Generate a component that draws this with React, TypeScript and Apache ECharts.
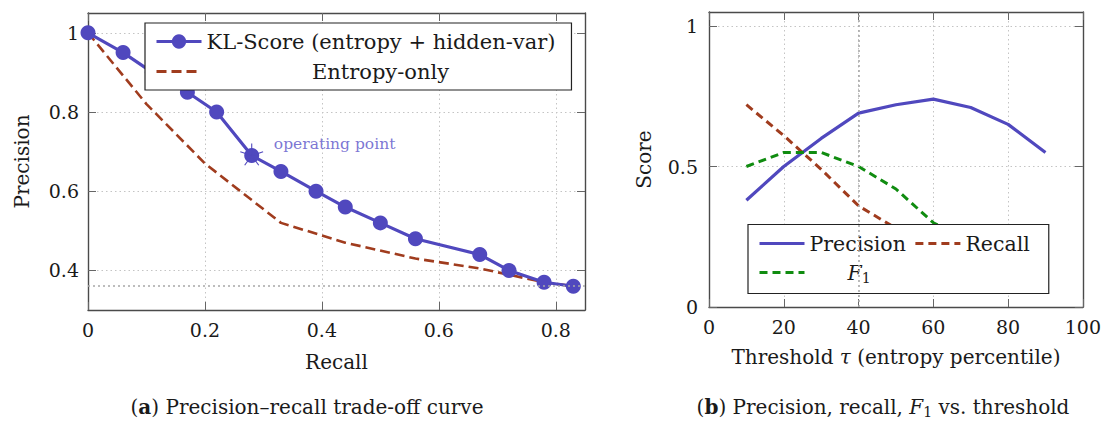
import React, { useEffect, useRef } from 'react';
import * as echarts from 'echarts';

// ---------- data ----------
const klName = 'KL-Score (entropy + hidden-var)';
const entName = 'Entropy-only';
const klRecall = [0, 0.06, 0.11, 0.17, 0.22, 0.28, 0.33, 0.39, 0.44, 0.5, 0.56, 0.67, 0.72, 0.78, 0.83];
const klPrecision = [1, 0.95, 0.9, 0.85, 0.8, 0.69, 0.65, 0.6, 0.56, 0.52, 0.48, 0.44, 0.4, 0.37, 0.36];
const entRecall = [0, 0.1, 0.2, 0.33, 0.44, 0.56, 0.67, 0.78, 0.83];
const entPrecision = [1, 0.82, 0.67, 0.52, 0.47, 0.43, 0.405, 0.37, 0.36];
const baselinePrecision = 0.36;
const operatingPoint = [0.28, 0.69];
const operatingLabel = { recall: 0.317, precision: 0.72, text: 'operating point' };

const thresholds = [10, 20, 30, 40, 50, 60, 70, 80, 90];
const precisionT = [0.38, 0.5, 0.6, 0.69, 0.72, 0.74, 0.71, 0.65, 0.55];
const recallT = [0.72, 0.61, 0.49, 0.36, 0.28, 0.2, 0.14, 0.09];
const f1T = [0.5, 0.55, 0.55, 0.5, 0.42, 0.3, 0.23, 0.16];
const chosenThreshold = 40;

const xTicksA = [0, 0.2, 0.4, 0.6, 0.8];
const yTicksA = [0.4, 0.6, 0.8, 1];
const xTicksB = [0, 20, 40, 60, 80, 100];
const yTicksB = [0, 0.5, 1];
const xRangeA = [0, 0.85];
const yRangeA = [0.3, 1.05];
const xRangeB = [0, 100];
const yRangeB = [0, 1.05];

// ---------- styles ----------
const FONT = 'DejaVu Serif';
const TEXT = '#1a1a1a';
const PURPLE = '#5048BE';
const BROWN = '#A03C1E';
const GREEN = '#108C10';
const NO_SYMBOL = { color: 'rgba(0,0,0,0)', borderWidth: 0, borderColor: 'rgba(0,0,0,0)' };

function axis(gridIndex: number, position: string, range: number[], ticks: number[], primary: boolean, extra: any = {}) {
  return {
    type: 'value',
    gridIndex,
    position,
    min: range[0],
    max: range[1],
    axisLine: { show: true, onZero: false, lineStyle: { color: '#4a4a4a', width: 1.4 } },
    axisTick: { show: true, inside: true, length: 8, customValues: ticks, lineStyle: { color: '#666', width: 1 } },
    axisLabel: { show: primary, customValues: ticks, fontFamily: FONT, fontSize: 19, color: TEXT, margin: 10 },
    splitLine: { show: primary, lineStyle: { color: '#c4c4c4', width: 1, type: [1.5, 3] } },
    ...extra,
  };
}

const nameStyle = {
  fontFamily: FONT,
  fontSize: 20,
  color: TEXT,
  rich: { i: { fontFamily: FONT, fontSize: 20, fontStyle: 'italic', color: TEXT } },
};

export default function App() {
  const ref = useRef<HTMLDivElement>(null);
  useEffect(() => {
    if (!ref.current) return;
    const chart = echarts.init(ref.current, undefined, { renderer: 'svg' });
    const legendRich = {
      l: { width: 348, align: 'left', fontFamily: FONT, fontSize: 21, lineHeight: 24, color: TEXT },
      c: { width: 348, align: 'center', fontFamily: FONT, fontSize: 21, lineHeight: 24, color: TEXT },
    };
    const legend2Rich = {
      c: { fontFamily: FONT, fontSize: 20.5, lineHeight: 25, color: TEXT },
      pad: { width: 38, lineHeight: 25 },
      i: { fontFamily: FONT, fontSize: 20.5, fontStyle: 'italic', lineHeight: 25, color: TEXT },
      s: { fontFamily: FONT, fontSize: 14, lineHeight: 12, verticalAlign: 'bottom', color: TEXT },
    };
    const option: any = {
      animation: false,
      backgroundColor: '#ffffff',
      grid: [
        { left: 88, top: 13, width: 497, height: 297 },
        { left: 709, top: 12, width: 378, height: 295 },
      ],
      xAxis: [
        axis(0, 'bottom', xRangeA, xTicksA, true, {
          name: 'Recall', nameLocation: 'middle', nameGap: 42, nameTextStyle: nameStyle,
        }),
        axis(0, 'top', xRangeA, xTicksA, false),
        axis(1, 'bottom', xRangeB, xTicksB, true, {
          name: 'Threshold {i|τ} (entropy percentile)', nameLocation: 'middle', nameGap: 40, nameTextStyle: nameStyle,
        }),
        axis(1, 'top', xRangeB, xTicksB, false),
      ],
      yAxis: [
        axis(0, 'left', yRangeA, yTicksA, true, {
          name: 'Precision', nameLocation: 'middle', nameGap: 56, nameTextStyle: nameStyle,
          axisLabel: { customValues: yTicksA, fontFamily: FONT, fontSize: 19, color: TEXT, margin: 9 },
        }),
        axis(0, 'right', yRangeA, yTicksA, false),
        axis(1, 'left', yRangeB, yTicksB, true, {
          name: 'Score', nameLocation: 'middle', nameGap: 55, nameTextStyle: nameStyle,
          axisLabel: { customValues: yTicksB, fontFamily: FONT, fontSize: 19, color: TEXT, margin: 11 },
        }),
        axis(1, 'right', yRangeB, yTicksB, false),
      ],
      legend: [
        {
          data: [klName, { name: entName, itemStyle: NO_SYMBOL }],
          orient: 'vertical',
          left: 145,
          top: 23,
          padding: [8, 16, 8, 10],
          itemWidth: 45,
          itemHeight: 18,
          itemGap: 9,
          backgroundColor: '#ffffff',
          borderColor: '#222',
          borderWidth: 1.2,
          selectedMode: false,
          lineStyle: { width: 3 },
          textStyle: { fontFamily: FONT, fontSize: 21, color: TEXT, rich: legendRich },
          formatter: (n: string) => (n === entName ? `{c|${n}}` : `{l|${n}}`),
        },
        {
          data: [
            { name: 'Precision', itemStyle: NO_SYMBOL },
            { name: 'Recall', itemStyle: NO_SYMBOL },
            { name: 'F1', itemStyle: NO_SYMBOL },
          ],
          orient: 'horizontal',
          left: 748,
          top: 224.5,
          width: 275,
          padding: [8.5, 19, 8.5, 10],
          itemWidth: 45,
          itemHeight: 14,
          itemGap: 8,
          backgroundColor: '#ffffff',
          borderColor: '#222',
          borderWidth: 1.2,
          selectedMode: false,
          lineStyle: { width: 3 },
          textStyle: { fontFamily: FONT, fontSize: 20.5, color: TEXT, rich: legend2Rich },
          formatter: (n: string) => (n === 'F1' ? '{pad|}{i|F}{s|1}' : `{c|${n}}`),
        },
      ],
      series: [
        {
          type: 'line',
          name: entName,
          xAxisIndex: 0,
          yAxisIndex: 0,
          data: entRecall.map((r, i) => [r, entPrecision[i]]),
          symbol: 'none',
          itemStyle: { color: BROWN },
          lineStyle: { color: BROWN, width: 2.6, type: [10, 5] },
          z: 2,
          markLine: {
            silent: true,
            symbol: 'none',
            label: { show: false },
            lineStyle: { color: '#a8a8a8', width: 1.6, type: [2, 3] },
            data: [{ yAxis: baselinePrecision }],
          },
        },
        {
          type: 'line',
          name: klName,
          xAxisIndex: 0,
          yAxisIndex: 0,
          data: klRecall.map((r, i) => [r, klPrecision[i]]),
          symbol: 'circle',
          symbolSize: 15,
          itemStyle: { color: PURPLE },
          lineStyle: { color: PURPLE, width: 3.2 },
          z: 3,
        },
        {
          type: 'custom',
          name: 'operating-star',
          xAxisIndex: 0,
          yAxisIndex: 0,
          data: [operatingPoint],
          z: 4,
          renderItem: (params: any, api: any) => {
            const c = api.coord([api.value(0), api.value(1)]);
            const r = 12;
            const angles = [90, 162, 234, 306, 18];
            return {
              type: 'group',
              children: angles.map((a) => ({
                type: 'line',
                shape: {
                  x1: c[0],
                  y1: c[1],
                  x2: c[0] + r * Math.cos((a * Math.PI) / 180),
                  y2: c[1] - r * Math.sin((a * Math.PI) / 180),
                },
                style: { stroke: PURPLE, lineWidth: 1.1 },
              })),
            };
          },
        },
        {
          type: 'scatter',
          name: 'operating-label',
          xAxisIndex: 0,
          yAxisIndex: 0,
          data: [[operatingLabel.recall, operatingLabel.precision]],
          symbolSize: 1,
          itemStyle: { color: 'rgba(0,0,0,0)' },
          silent: true,
          label: {
            show: true,
            position: 'right',
            distance: 0,
            formatter: operatingLabel.text,
            fontFamily: FONT,
            fontSize: 15.5,
            color: '#5A52C8',
          },
          z: 4,
        },
        {
          type: 'line',
          name: 'Precision',
          xAxisIndex: 2,
          yAxisIndex: 2,
          data: thresholds.map((t, i) => [t, precisionT[i]]),
          symbol: 'none',
          itemStyle: { color: PURPLE },
          lineStyle: { color: PURPLE, width: 3.2 },
          z: 3,
          markLine: {
            silent: true,
            symbol: 'none',
            label: { show: false },
            lineStyle: { color: '#a8a8a8', width: 1.6, type: [2, 3] },
            data: [{ xAxis: chosenThreshold }],
          },
        },
        {
          type: 'line',
          name: 'Recall',
          xAxisIndex: 2,
          yAxisIndex: 2,
          data: recallT.map((v, i) => [thresholds[i], v]),
          symbol: 'none',
          itemStyle: { color: BROWN },
          lineStyle: { color: BROWN, width: 3, type: [8, 5] },
          z: 3,
        },
        {
          type: 'line',
          name: 'F1',
          xAxisIndex: 2,
          yAxisIndex: 2,
          data: f1T.map((v, i) => [thresholds[i], v]),
          symbol: 'none',
          itemStyle: { color: GREEN },
          lineStyle: { color: GREEN, width: 3, type: [8, 5] },
          z: 3,
        },
      ],
      graphic: [
        {
          type: 'text',
          x: 307,
          y: 407,
          style: {
            text: '({b|a}) Precision–recall trade-off curve',
            fontFamily: FONT,
            fontSize: 20,
            lineHeight: 24,
            fill: TEXT,
            align: 'center',
            verticalAlign: 'middle',
            rich: { b: { fontFamily: FONT, fontSize: 20, fontWeight: 'bold', lineHeight: 24, fill: TEXT } },
          },
        },
        {
          type: 'text',
          x: 883,
          y: 407,
          style: {
            text: '({b|b}) Precision, recall, {i|F}{s|1} vs. threshold',
            fontFamily: FONT,
            fontSize: 20,
            lineHeight: 24,
            fill: TEXT,
            align: 'center',
            verticalAlign: 'middle',
            rich: {
              b: { fontFamily: FONT, fontSize: 20, fontWeight: 'bold', lineHeight: 24, fill: TEXT },
              i: { fontFamily: FONT, fontSize: 20, fontStyle: 'italic', lineHeight: 24, fill: TEXT },
              s: { fontFamily: FONT, fontSize: 14, lineHeight: 12, verticalAlign: 'bottom', fill: TEXT },
            },
          },
        },
      ],
    };
    chart.setOption(option);
    return () => chart.dispose();
  }, []);
  return (
    <div
      ref={ref}
      style={{ position: 'fixed', left: 0, top: 0, width: 1104, height: 425, background: '#fff' }}
    />
  );
}
